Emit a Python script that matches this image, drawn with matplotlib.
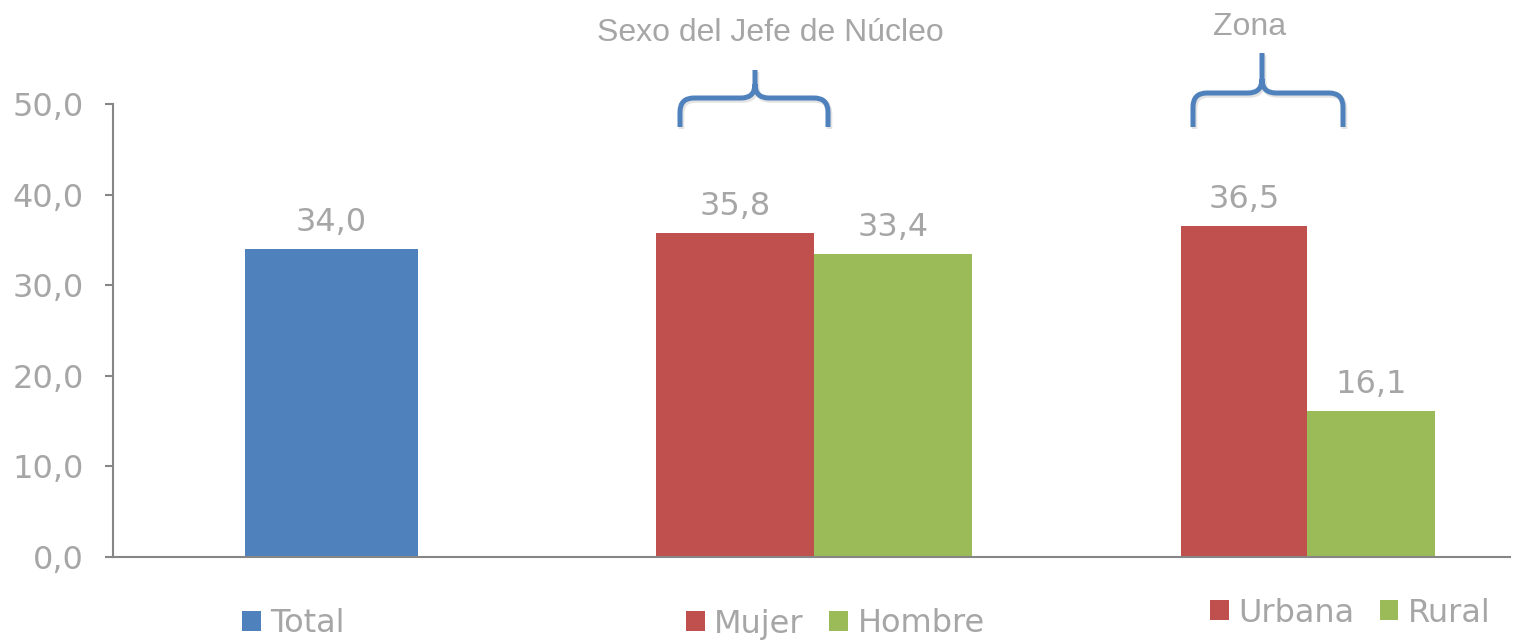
import matplotlib
matplotlib.use("Agg")
import matplotlib.pyplot as plt
from matplotlib.path import Path
from matplotlib.patches import PathPatch
from matplotlib.transforms import ScaledTranslation
from matplotlib.ticker import FuncFormatter, MultipleLocator

# Data
categories = ["Total", "Mujer", "Hombre", "Urbana", "Rural"]
values = [34.0, 35.8, 33.4, 36.5, 16.1]
group_titles = ["Sexo del Jefe de Núcleo", "Zona"]
legend_groups = [["Total"], ["Mujer", "Hombre"], ["Urbana", "Rural"]]

BLUE, RED, GREEN = "#4F81BD", "#C0504D", "#9BBB59"
colors = [BLUE, RED, GREEN, RED, GREEN]
GRAY_TXT = "#A6A6A6"
AXIS_GRAY = "#868686"
FS = 23

# Horizontal layout (x units equal figure pixels)
bar_left = [245, 656, 814, 1181, 1307]
bar_width = [173, 158, 158, 126, 128]

W, H = 1513, 640
fig = plt.figure(figsize=(W / 100, H / 100), dpi=100)
ax = fig.add_axes([113 / W, 83 / H, (1510 - 113) / W, (557 - 104) / H])

bars = []
for cat, val, x0, w, c in zip(categories, values, bar_left, bar_width, colors):
    b = ax.bar(x0, val, width=w, align="edge", color=c, label=cat, zorder=2)
    bars.append(b)
    ax.annotate(f"{val:.1f}".replace(".", ","), (x0 + w / 2, val),
                xytext=(0, 8), textcoords="offset points",
                ha="center", va="bottom", fontsize=FS, color=GRAY_TXT,
                family="DejaVu Sans")

ax.set_xlim(113, 1510)
ax.set_ylim(0, 50)
ax.yaxis.set_major_locator(MultipleLocator(10))
ax.yaxis.set_major_formatter(FuncFormatter(lambda v, p: f"{v:.1f}".replace(".", ",")))
ax.set_xticks([])
for s in ["top", "right"]:
    ax.spines[s].set_visible(False)
for s in ["left", "bottom"]:
    ax.spines[s].set_color(AXIS_GRAY)
    ax.spines[s].set_linewidth(1.5)
ax.tick_params(axis="y", direction="out", length=6, width=1.5, color=AXIS_GRAY,
               labelsize=FS, labelcolor=GRAY_TXT, pad=15)

# Legends below each group
handle_map = dict(zip(categories, bars))
legend_anchors = [(242, 624), (686, 624), (1210, 613)]
for names, (lx, ly) in zip(legend_groups, legend_anchors):
    leg = fig.legend([handle_map[n] for n in names], names,
                     loc="center left", bbox_to_anchor=(lx / W, 1 - ly / H),
                     ncol=len(names), frameon=False,
                     handlelength=0.58, handleheight=0.58, handletextpad=0.3,
                     columnspacing=0.8, borderaxespad=0, borderpad=0,
                     prop={"family": "DejaVu Sans", "size": FS})
    for t in leg.get_texts():
        t.set_color(GRAY_TXT)

# Overlay for group titles and braces, in pixel coordinates
ov = fig.add_axes([0, 0, 1, 1], facecolor="none")
ov.set_xlim(0, W)
ov.set_ylim(H, 0)
ov.axis("off")

ov.text(770, 33, group_titles[0], ha="center", va="center", fontsize=FS,
        color=GRAY_TXT, family="Liberation Sans")
ov.text(1250, 27, group_titles[1], ha="center", va="center", fontsize=FS,
        color=GRAY_TXT, family="Liberation Sans")


def brace(x0, x1, xm, yh, yt, yb, r=14):
    verts = [(x0, yb), (x0, yh + r), (x0, yh), (x0 + r, yh), (xm - r, yh),
             (xm, yh), (xm, yh - r), (xm, yt),
             (xm, yh - r), (xm, yh), (xm + r, yh), (x1 - r, yh),
             (x1, yh), (x1, yh + r), (x1, yb)]
    codes = [Path.MOVETO, Path.LINETO, Path.CURVE3, Path.CURVE3, Path.LINETO,
             Path.CURVE3, Path.CURVE3, Path.LINETO,
             Path.MOVETO, Path.CURVE3, Path.CURVE3, Path.LINETO,
             Path.CURVE3, Path.CURVE3, Path.LINETO]
    path = Path(verts, codes)
    shadow_tf = ov.transData + ScaledTranslation(1.5 / 100, -2 / 100, fig.dpi_scale_trans)
    ov.add_patch(PathPatch(path, fill=False, lw=4.0, color="#E3E3E3",
                           capstyle="butt", joinstyle="round", transform=shadow_tf))
    ov.add_patch(PathPatch(path, fill=False, lw=3.6, color=BLUE,
                           capstyle="butt", joinstyle="round"))


brace(680, 828, 755, 98, 70, 127)
brace(1193, 1343, 1262, 93, 53, 127)

fig.savefig("out.png", dpi=100)
